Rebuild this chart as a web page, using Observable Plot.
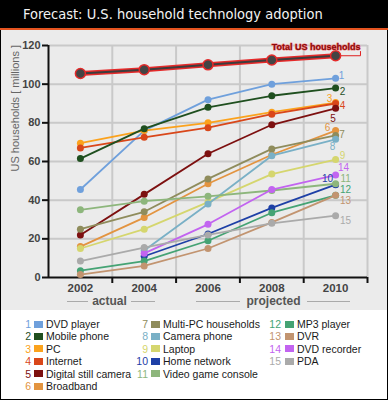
<!DOCTYPE html>
<html><head><meta charset="utf-8">
<script src="https://cdn.jsdelivr.net/npm/d3@7"></script>
<script src="https://cdn.jsdelivr.net/npm/@observablehq/plot@0.6"></script>
<style>
body{margin:0;background:#fff;}
#wrap{position:relative;width:388px;height:400px;background:#000;overflow:hidden;font-family:"Liberation Sans",Arial,sans-serif;}
#title{position:absolute;left:0;top:0;width:388px;height:28px;color:#f2f2f2;font-family:"DejaVu Sans Condensed","DejaVu Sans",sans-serif;font-stretch:condensed;font-size:14.5px;line-height:28px;padding-left:23px;box-sizing:border-box;white-space:nowrap;}
#rule{position:absolute;left:0;top:28px;width:388px;height:2px;background:#e55420;}
#panel{position:absolute;left:1px;top:30px;width:386px;height:280px;background:#ebebeb;}
#legend{position:absolute;left:1px;top:310px;width:386px;height:89px;background:#fff;}
.period{position:absolute;top:293px;height:16px;display:flex;align-items:center;font-weight:bold;font-size:12px;color:#555;}
.period span.l{display:block;height:1px;background:#aaa;}
.li{position:absolute;height:12px;font-size:10.5px;line-height:12px;color:#1a1a1a;white-space:nowrap;}
.li .n{position:absolute;text-align:right;width:20px;}
.li .sw{position:absolute;top:2.5px;width:9px;height:7px;}
.li .t{position:absolute;}
</style></head>
<body>
<div id="wrap">
  <div id="title">Forecast: U.S. household technology adoption</div>
  <div id="rule"></div>
  <div id="panel"></div>
  <div id="legend"></div>
</div>
<script>
const years = [2002, 2004, 2006, 2008, 2010];
const totalLabel = "Total US households";
const total = [105.5, 107.5, 110, 112.5, 114.7];

const seriesNames = ["DVD player", "Mobile phone", "PC", "Internet", "Digital still camera", "Broadband",
  "Multi-PC households", "Camera phone", "Laptop", "Home network", "Video game console",
  "MP3 player", "DVR", "DVD recorder", "PDA"];
const seriesColors = ["#6fa0dc", "#1f4f1f", "#fba21d", "#d9471a", "#7d1010", "#e39440",
  "#8f8c5c", "#79b0c6", "#d5d66e", "#1e40a6", "#8db67c",
  "#45a374", "#c29470", "#c264f0", "#aaaaaa"];

const dvdPlayer     = [45.5, 76, 92, 100, 103];
const mobilePhone   = [61.5, 77, 88, 94, 98];
const pc            = [69.5, 76, 80, 85.5, 90.5];
const internet      = [67, 72.5, 77.5, 84.5, 90];
const digitalCamera = [22, 43, 64, 79, 87.5];
const broadband     = [16, 31, 48.5, 63.5, 76];
const multiPC       = [25, 34, 51, 66.5, 73.5];
const cameraPhone   = [null, 14, 38, 63, 71.5];
const laptop        = [15, 25, 39, 53.5, 61];
const homeNetwork   = [null, 11, 22.5, 36, 48];
const videoGame     = [35, 39.5, 42, 45, 48.5];
const mp3Player     = [3.5, 8.5, 19, 33.5, 42.5];
const dvr           = [1.5, 6, 15, 28.5, 42.5];
const dvdRecorder   = [null, 12.5, 27.5, 45.5, 53];
const pda           = [8.5, 15.5, 22, 28, 32];

const seriesValues = [dvdPlayer, mobilePhone, pc, internet, digitalCamera, broadband, multiPC,
  cameraPhone, laptop, homeNetwork, videoGame, mp3Player, dvr, dvdRecorder, pda];

const yTicks = [0, 20, 40, 60, 80, 100, 120];
const xLabelTicks = [2002, 2004, 2006, 2008, 2010];
const xGridTicks = [2003, 2005, 2007, 2009, 2011];

// layout (not data): end-label offsets in px, draw order
const labelDx = [6, 7, -6, 7, -2.5, -8, 6.5, -3, 7, -8, 10, 10, 10, 8, 10];
const labelDy = [-3, 4, -4, 2, 10, -3, -1, 8, -4, -6, -5, -5.5, 5, -7, 5];
const drawOrder = [0, 2, 3, 4, 5, 6, 8, 7, 9, 10, 11, 12, 13, 14, 1];

const rows = [];
seriesValues.forEach((vals, i) => vals.forEach((v, j) => {
  if (v != null) rows.push({series: seriesNames[i], idx: i + 1, year: years[j], value: v});
}));
const totalRows = years.map((y, j) => ({year: y, value: total[j]}));

const seriesMarks = [];
for (const i of drawOrder) {
  const d = rows.filter(r => r.idx === i + 1);
  seriesMarks.push(Plot.line(d, {x: "year", y: "value", stroke: seriesColors[i], strokeWidth: 1.8}));
  seriesMarks.push(Plot.dot(d, {x: "year", y: "value", fill: seriesColors[i], r: 3.5}));
}
const labelMarks = seriesNames.map((name, i) => Plot.text(
  rows.filter(r => r.idx === i + 1 && r.year === 2010),
  {x: "year", y: "value", text: d => String(d.idx), fill: seriesColors[i], dx: labelDx[i], dy: labelDy[i],
   fontSize: 10, textAnchor: "middle"}));

const lastTotal = totalRows[totalRows.length - 1];
const connector = [
  {x: lastTotal.year, y: lastTotal.value},
  {x: lastTotal.year + 0.78, y: lastTotal.value},
  {x: lastTotal.year + 0.78, y: lastTotal.value + 2.2}
];

const chart = Plot.plot({
  width: 386, height: 280,
  marginTop: 15, marginBottom: 33, marginLeft: 47, marginRight: 20,
  style: {background: "transparent", fontFamily: "Liberation Sans, Arial, sans-serif"},
  x: {domain: [2001, 2011]},
  y: {domain: [0, 120]},
  marks: [
    Plot.gridY(yTicks.filter(t => t > 0), {stroke: "#c9c9c9", strokeWidth: 2, strokeOpacity: 1}),
    Plot.gridX(xGridTicks, {stroke: "#c9c9c9", strokeWidth: 2, strokeOpacity: 1}),
    Plot.axisY(yTicks, {tickSize: 6, tickPadding: 2, fontWeight: "bold", fontSize: 11, fill: "#444", stroke: "#111", strokeWidth: 2, label: null}),
    Plot.axisX(xLabelTicks, {tickSize: 0, tickPadding: 6, fontWeight: "bold", fontSize: 11.5, fill: "#444", tickFormat: d => String(d), label: null}),
    Plot.axisX(xGridTicks, {tickSize: 6, stroke: "#111", strokeWidth: 2, tickFormat: () => "", label: null}),
    Plot.ruleY([0], {stroke: "#111", strokeWidth: 2}),
    Plot.ruleX([2001], {stroke: "#111", strokeWidth: 2}),
    Plot.text([0], {frameAnchor: "left", text: () => "US households [ millions ]", rotate: -90, dx: -33, dy: 10, fontSize: 11, fill: "#666"}),
    ...seriesMarks,
    ...labelMarks,
    Plot.line(connector, {x: "x", y: "y", stroke: "#e02020", strokeWidth: 1}),
    Plot.line(totalRows, {x: "year", y: "value", stroke: "#e52a2a", strokeWidth: 5}),
    Plot.line(totalRows, {x: "year", y: "value", stroke: "#3d3d3d", strokeWidth: 2}),
    Plot.dot(totalRows, {x: "year", y: "value", fill: "#444", stroke: "#e52a2a", strokeWidth: 1.5, r: 5}),
    Plot.text([lastTotal], {x: d => d.year + 0.78, y: d => d.value + 2.2, text: () => totalLabel, textAnchor: "end", dy: -4,
      fontWeight: "bold", fontSize: 9, fill: "#8a0a0a", stroke: "#f07070", strokeWidth: 1, paintOrder: "stroke"})
  ]
});
document.getElementById("panel").appendChild(chart);

// period labels
const wrap = document.getElementById("wrap");
function period(text, x1, x2, tx1, tx2) {
  const d = document.createElement("div");
  d.className = "period";
  d.style.left = x1 + "px";
  d.style.width = (x2 - x1) + "px";
  d.innerHTML = `<span class="l" style="width:${tx1 - x1}px"></span><span style="flex:1;text-align:center">${text}</span><span class="l" style="width:${x2 - tx2}px"></span>`;
  wrap.appendChild(d);
}
period("actual", 67, 155, 88, 131);
period("projected", 196, 350, 240, 307);

// legend
const legend = document.getElementById("legend");
const colX = [10, 127, 260];
const colN = [6, 5, 4];
let k = 0;
colX.forEach((cx, c) => {
  for (let r = 0; r < colN[c]; r++, k++) {
    const i = k;
    const el = document.createElement("div");
    el.className = "li";
    el.style.left = cx + "px";
    el.style.top = (8 + r * 12.45) + "px";
    el.innerHTML = `<span class="n" style="left:0px;color:${seriesColors[i]}">${i + 1}</span>` +
      `<span class="sw" style="left:${c === 2 ? 24 : 23}px;background:${seriesColors[i]}"></span>` +
      `<span class="t" style="left:${c === 2 ? 36 : 35}px">${seriesNames[i]}</span>`;
    legend.appendChild(el);
  }
});
</script>
</body></html>
